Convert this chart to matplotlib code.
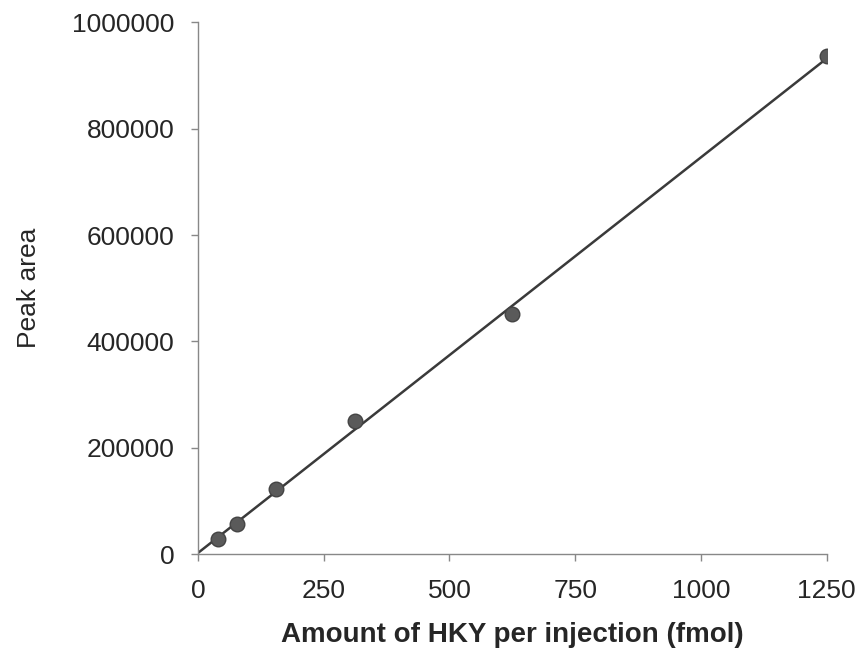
import numpy as np
import matplotlib
matplotlib.use('Agg')
import matplotlib.pyplot as plt

# Data
amount_fmol = [39, 78, 156, 312.5, 625, 1250]
peak_area = [28000, 56000, 122000, 250000, 451000, 936000]

x_ticks = [0, 250, 500, 750, 1000, 1250]
y_ticks = [0, 200000, 400000, 600000, 800000, 1000000]

plt.rcParams['font.family'] = ['Liberation Sans', 'DejaVu Sans']
text_col = '#262626'

# linear fit through the points
slope, intercept = np.polyfit(amount_fmol, peak_area, 1)
fit_x = np.array([0, 1250])
fit_y = slope * fit_x + intercept

fig = plt.figure(figsize=(8.61, 6.58), dpi=100)
ax = fig.add_axes([0.23, 0.158, 0.73, 0.808])

ax.plot(fit_x, fit_y, color='#3a3a3a', lw=1.8, zorder=2)
ax.plot(amount_fmol, peak_area, 'o', color='#5a5a5a', markersize=10.5,
        markeredgecolor='#444444', zorder=3)

ax.set_xlim(0, 1250)
ax.set_ylim(0, 1000000)
ax.set_xticks(x_ticks)
ax.set_yticks(y_ticks)
ax.set_yticklabels([str(v) for v in y_ticks])

for side in ['top', 'right']:
    ax.spines[side].set_visible(False)
for side in ['left', 'bottom']:
    ax.spines[side].set_color('#888888')
    ax.spines[side].set_linewidth(1.0)

ax.tick_params(direction='out', length=5, width=1, color='#888888',
               labelsize=19, labelcolor=text_col)
ax.tick_params(axis='x', pad=13)
ax.tick_params(axis='y', pad=12)

ax.set_xlabel('Amount of HKY per injection (fmol)', fontsize=20,
              fontweight='bold', color=text_col, labelpad=14)
ax.set_ylabel('Peak area', fontsize=19, color=text_col, labelpad=22)

fig.savefig('out.png', dpi=100)
